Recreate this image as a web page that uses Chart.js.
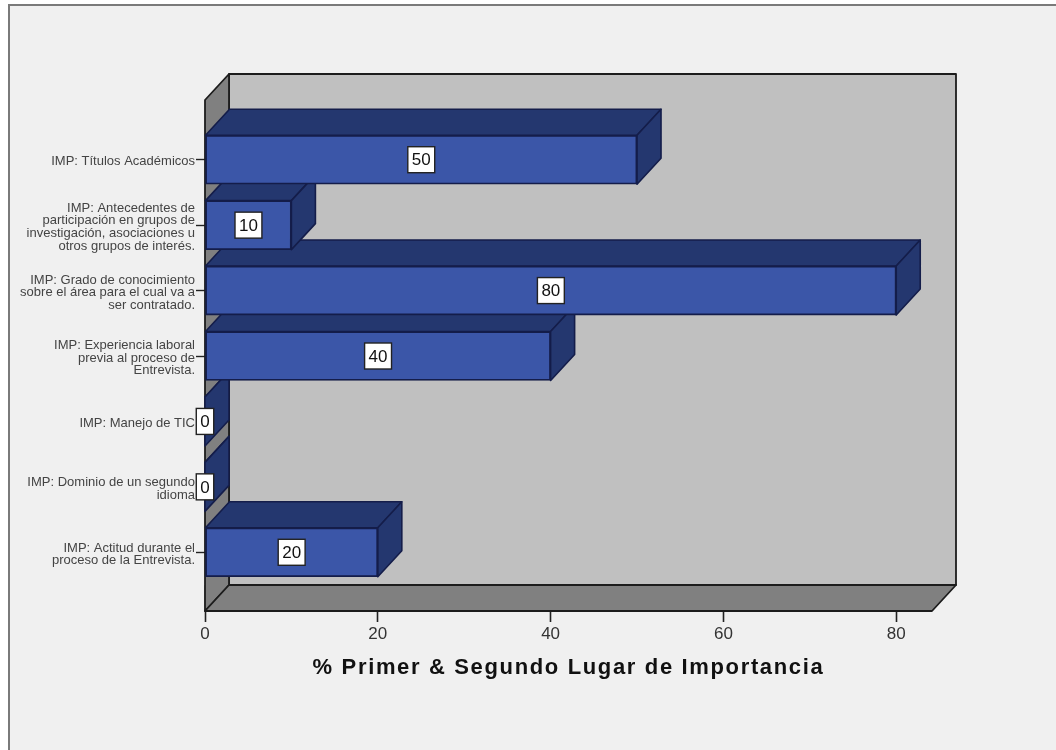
<!DOCTYPE html>
<html>
<head>
<meta charset="utf-8">
<style>
  html, body { margin: 0; padding: 0; background: #fff; overflow: hidden; }
  #frame {
    position: absolute; left: 8px; top: 4px; width: 1048px; height: 746px;
    box-sizing: border-box; background: #f0f0f0;
    border-left: 2px solid #7a7a7a; border-top: 2px solid #7a7a7a;
  }
  #impChart { position: absolute; left: 0; top: 0; }
</style>
<script src="https://cdn.jsdelivr.net/npm/chart.js@4"></script>
</head>
<body>
<div id="frame"></div>
<canvas id="impChart" width="1056" height="750"></canvas>
<script>
const categories = [
  ["IMP: Títulos Académicos"],
  ["IMP: Antecedentes de", "participación en grupos de", "investigación, asociaciones u", "otros grupos de interés."],
  ["IMP: Grado de conocimiento", "sobre el área para el cual va a", "ser contratado."],
  ["IMP: Experiencia laboral", "previa al proceso de", "Entrevista."],
  ["IMP: Manejo de TIC"],
  ["IMP: Dominio de un segundo", "idioma"],
  ["IMP: Actitud durante el", "proceso de la Entrevista."],
];
const percents = [50, 10, 80, 40, 0, 0, 20];
const xTicks = [0, 20, 40, 60, 80];
const xTitle = "% Primer & Segundo Lugar de Importancia";

const DEPTH_X = 24;
const DEPTH_Y = 26;
const FONT = "'Liberation Sans', Arial, sans-serif";

function poly(ctx, pts, fill, stroke, width) {
  ctx.beginPath();
  pts.forEach((p, i) => (i ? ctx.lineTo(p[0], p[1]) : ctx.moveTo(p[0], p[1])));
  ctx.closePath();
  ctx.fillStyle = fill;
  ctx.fill();
  ctx.lineJoin = "round";
  ctx.lineWidth = width;
  ctx.strokeStyle = stroke;
  ctx.stroke();
}

// the scale options have no tracking or nudge setting, so wrap the draw calls
function withTracking(scale, method, spacing) {
  const original = scale[method];
  scale[method] = function () {
    this.ctx.letterSpacing = spacing;
    original.call(this);
    this.ctx.letterSpacing = "0px";
  };
}

function withNudge(scale, method, dy) {
  const original = scale[method];
  scale[method] = function () {
    this.ctx.save();
    this.ctx.translate(0, dy);
    original.call(this);
    this.ctx.restore();
  };
}

// back wall, left wall, floor and the depth faces of the bars
const box3d = {
  id: "box3d",
  beforeDatasetsDraw(chart) {
    const { ctx, chartArea: a } = chart;
    const l = a.left, r = a.right;
    const top = a.top - DEPTH_Y - 1, bot = a.bottom + DEPTH_Y;
    const dx = DEPTH_X, dy = DEPTH_Y;
    ctx.save();
    poly(ctx, [[l + dx, top - dy], [r + dx, top - dy], [r + dx, bot - dy], [l + dx, bot - dy]], "#c0c0c0", "#1c1c1c", 1.8);
    poly(ctx, [[l, top], [l + dx, top - dy], [l + dx, bot - dy], [l, bot]], "#808080", "#1c1c1c", 1.8);
    poly(ctx, [[l, bot], [l + dx, bot - dy], [r + dx, bot - dy], [r, bot]], "#808080", "#1c1c1c", 1.8);

    // lowest bar first, so each bar's faces cover the one below it
    const bars = chart.getDatasetMeta(0).data;
    for (let i = bars.length - 1; i >= 0; i--) {
      const b = bars[i];
      const y0 = b.y - b.height / 2, y1 = b.y + b.height / 2;
      poly(ctx, [[b.base, y0], [b.base + dx, y0 - dy], [b.x + dx, y0 - dy], [b.x, y0]], "#24376f", "#141d4a", 1.6);
      poly(ctx, [[b.x, y0], [b.x + dx, y0 - dy], [b.x + dx, y1 - dy], [b.x, y1]], "#24376f", "#141d4a", 1.6);
    }
    ctx.restore();
  },
  // value boxes sit in the middle of each bar front
  afterDatasetsDraw(chart) {
    const { ctx } = chart;
    ctx.save();
    ctx.font = "17px " + FONT;
    ctx.textAlign = "center";
    ctx.textBaseline = "middle";
    chart.getDatasetMeta(0).data.forEach((b, i) => {
      const text = String(percents[i]);
      const w = ctx.measureText(text).width + 8;
      const h = 26;
      const cx = (b.base + b.x) / 2;
      ctx.fillStyle = "#fff";
      ctx.fillRect(cx - w / 2, b.y - h / 2, w, h);
      ctx.lineWidth = 1.4;
      ctx.strokeStyle = "#222";
      ctx.strokeRect(cx - w / 2, b.y - h / 2, w, h);
      ctx.fillStyle = "#111";
      ctx.fillText(text, cx, b.y + 1);
    });
    ctx.restore();
  },
};

new Chart(document.getElementById("impChart"), {
  type: "bar",
  plugins: [box3d],
  data: {
    labels: categories,
    datasets: [
      {
        data: percents,
        backgroundColor: "#3b56a8",
        borderColor: "#141d4a",
        borderWidth: 1.8,
        barThickness: 49,
        borderSkipped: false,
      },
    ],
  },
  options: {
    indexAxis: "y",
    responsive: false,
    animation: false,
    layout: { padding: { top: 127, right: 124, left: 0, bottom: 0 } },
    plugins: { legend: { display: false }, tooltip: { enabled: false } },
    scales: {
      x: {
        type: "linear",
        min: 0,
        max: 84.14,
        afterBuildTicks(scale) {
          scale.ticks = xTicks.map((value) => ({ value }));
        },
        afterFit(scale) {
          scale.height = 165;
          if (!scale.wrapped) {
            withTracking(scale, "drawTitle", "1.65px");
            scale.wrapped = true;
          }
        },
        border: { display: false },
        grid: { drawOnChartArea: false, tickLength: 37, tickColor: "#222", tickWidth: 1.6 },
        ticks: { color: "#333", padding: 2, font: { family: FONT, size: 17 }, maxRotation: 0 },
        title: {
          display: true,
          text: xTitle,
          color: "#111",
          padding: { top: 0, bottom: 69 },
          font: { family: FONT, size: 22, weight: "bold" },
        },
      },
      y: {
        type: "category",
        offset: true,
        afterFit(scale) {
          scale.width = 205;
          if (!scale.wrapped) {
            withNudge(scale, "drawLabels", 2);
            scale.wrapped = true;
          }
        },
        border: { display: false },
        grid: { drawOnChartArea: false, offset: false, tickLength: 9, tickColor: "#222", tickWidth: 1.4 },
        ticks: {
          color: "#444",
          padding: 1,
          autoSkip: false,
          font: { family: FONT, size: 13, lineHeight: 0.97 },
        },
      },
    },
  },
});
</script>
</body>
</html>
